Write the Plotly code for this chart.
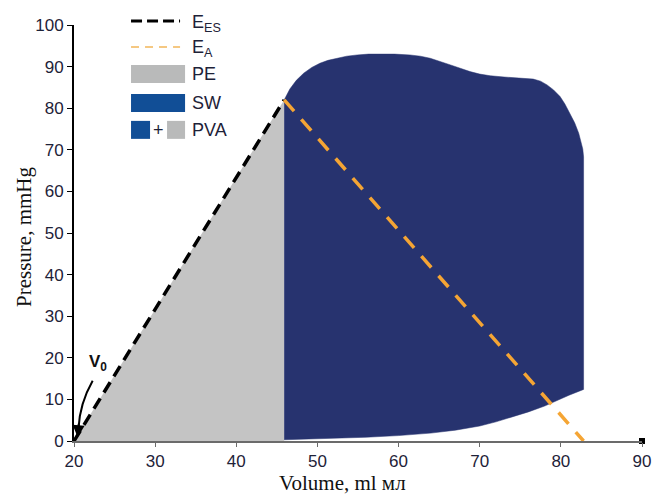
import plotly.graph_objects as go

# ---------------- data ----------------
V0 = 20.0            # unloaded volume
V_ES = 45.9          # end-systolic volume
P_ES = 82.0          # end-systolic pressure
V_ED = 82.8          # end-diastolic volume

# pressure-volume loop: upper (ejection/systolic) boundary
top_vol = [45.9, 46.6, 47.4, 48.3, 49.3, 50.3, 51.3, 52.4, 53.6, 54.9, 56.3,
           57.7, 59.5, 61.4, 62.7, 63.9, 65.1, 66.4, 67.6, 68.8, 70.0, 71.3,
           73.0, 74.6, 75.6, 76.6, 77.5, 78.3, 79.1, 79.9, 80.5, 81.1, 81.7,
           82.2, 82.5, 82.7, 82.8]
top_prs = [82.0, 84.6, 86.7, 88.4, 89.8, 90.8, 91.5, 92.0, 92.5, 92.8, 93.0,
           93.0, 93.0, 92.8, 92.5, 92.0, 91.3, 90.4, 89.6, 88.8, 88.2, 87.8,
           87.5, 87.3, 87.2, 87.0, 86.5, 85.6, 84.4, 82.8, 81.0, 78.8, 76.5,
           74.0, 72.0, 70.2, 68.3]
# lower (filling / EDPVR) boundary, from end-diastole back to end-systole
bot_vol = [82.8, 81.0, 79.9, 78.0, 76.0, 74.0, 72.0, 70.0, 67.0, 64.0, 60.0,
           56.0, 52.0, 49.0, 45.9]
bot_prs = [12.4, 11.0, 10.0, 8.4, 7.0, 5.8, 4.6, 3.6, 2.6, 1.9, 1.3,
           0.9, 0.6, 0.4, 0.3]

x_ticks = [20, 30, 40, 50, 60, 70, 80, 90]
y_ticks = [0, 10, 20, 30, 40, 50, 60, 70, 80, 90, 100]
X_MIN, X_MAX = 20, 90
Y_MIN, Y_MAX = 0, 100

# ---------------- styles ----------------
PE_COLOR = "#c4c4c4"
SW_COLOR = "#27336f"
SW_LEG = "#114e96"
PE_LEG = "#b9baba"
EA_COLOR = "#f5a534"
TXT = "#1e2238"

fig = go.Figure()

# PE triangle (V0 -> ES point -> down to axis)
fig.add_trace(go.Scatter(
    x=[V0, V_ES, V_ES, V0], y=[0, P_ES, 0, 0],
    fill="toself", fillcolor=PE_COLOR, mode="lines",
    line=dict(width=0, color=PE_COLOR), hoverinfo="skip", showlegend=False))

# SW loop area
fig.add_trace(go.Scatter(
    x=top_vol + bot_vol, y=top_prs + bot_prs,
    fill="toself", fillcolor=SW_COLOR, mode="lines",
    line=dict(width=0.5, color=SW_COLOR),
    hoverinfo="skip", showlegend=False))

# E_ES line
fig.add_trace(go.Scatter(
    x=[V0, V_ES], y=[0, P_ES], mode="lines",
    line=dict(color="black", width=3.5, dash="12px,7px"),
    hoverinfo="skip", showlegend=False))

# E_A line
fig.add_trace(go.Scatter(
    x=[V_ES, V_ED], y=[P_ES, 0], mode="lines",
    line=dict(color=EA_COLOR, width=3.5, dash="15px,11px"),
    hoverinfo="skip", showlegend=False, cliponaxis=False))

# end-of-axis square marker
fig.add_trace(go.Scatter(
    x=[X_MAX], y=[Y_MIN], mode="markers",
    marker=dict(symbol="square", size=6, color="black"),
    hoverinfo="skip", showlegend=False, cliponaxis=False))

# ---------------- legend (drawn manually) ----------------
L, R, T, B = 74, 641.7, 25, 441.5
def px(x):
    return (x - L) / (R - L)
def py(y):
    return (B - y) / (B - T)

shapes = []
annotations = []
shapes.append(dict(type="line", xref="paper", yref="paper",
                   x0=px(131), x1=px(180), y0=py(21), y1=py(21),
                   line=dict(color="black", width=3, dash="11px,5px")))
shapes.append(dict(type="line", xref="paper", yref="paper",
                   x0=px(131), x1=px(180), y0=py(47), y1=py(47),
                   line=dict(color="#f2b65a", width=1.5, dash="8px,6px")))
shapes.append(dict(type="rect", xref="paper", yref="paper",
                   x0=px(131), x1=px(185), y0=py(83), y1=py(65),
                   fillcolor=PE_LEG, line=dict(width=0)))
shapes.append(dict(type="rect", xref="paper", yref="paper",
                   x0=px(131), x1=px(185), y0=py(112), y1=py(94),
                   fillcolor=SW_LEG, line=dict(width=0)))
shapes.append(dict(type="rect", xref="paper", yref="paper",
                   x0=px(131), x1=px(150), y0=py(139), y1=py(121),
                   fillcolor=SW_LEG, line=dict(width=0)))
shapes.append(dict(type="rect", xref="paper", yref="paper",
                   x0=px(167), x1=px(185), y0=py(139), y1=py(121),
                   fillcolor=PE_LEG, line=dict(width=0)))

leg_font = dict(family="Liberation Sans, Arial", size=18, color=TXT)
for txt, yy in [("E<sub>ES</sub>", 23), ("E<sub>A</sub>", 49), ("PE", 74),
                ("SW", 103), ("PVA", 130)]:
    annotations.append(dict(xref="paper", yref="paper", x=px(190), y=py(yy),
                            xanchor="left", yanchor="middle", text=txt,
                            showarrow=False, font=leg_font))
annotations.append(dict(xref="paper", yref="paper", x=px(158.5), y=py(130),
                        xanchor="center", yanchor="middle", text="+",
                        showarrow=False, font=leg_font))

# ---------------- V0 label + curved arrow ----------------
annotations.append(dict(x=23.0, y=18.8, xref="x", yref="y", text="<b>V<sub>0</sub></b>",
                        showarrow=False,
                        font=dict(family="Liberation Sans, Arial", size=17, color="#111")))
shapes.append(dict(type="path", xref="x", yref="y",
                   path="M 22.3,14.5 Q 20.7,9.0 20.55,3.0",
                   line=dict(color="black", width=2)))
annotations.append(dict(x=20.45, y=0.9, xref="x", yref="y",
                        ax=20.6, ay=4.5, axref="x", ayref="y",
                        text="", showarrow=True, arrowhead=2, arrowsize=1.2,
                        arrowwidth=2, arrowcolor="black"))

# ---------------- axis titles ----------------
title_font = dict(family="Liberation Serif, Times New Roman", size=21, color="#111")
annotations.append(dict(xref="paper", yref="paper", x=(342 - L) / (R - L), y=0,
                        yshift=-42, xanchor="center", yanchor="middle",
                        text="Volume, ml мл", showarrow=False, font=title_font))
annotations.append(dict(xref="paper", yref="paper", x=0, y=0.5, xshift=-50,
                        yshift=-4, xanchor="center", yanchor="middle",
                        text="Pressure, mmHg", textangle=-90,
                        showarrow=False, font=title_font))

tick_font = dict(family="Liberation Sans, Arial", size=17, color=TXT)
fig.update_layout(
    width=664, height=494,
    margin=dict(l=74, r=22, t=25, b=52.5),
    paper_bgcolor="white", plot_bgcolor="white",
    showlegend=False,
    shapes=shapes, annotations=annotations,
    xaxis=dict(range=[X_MIN, X_MAX], tickvals=x_ticks, showgrid=False,
               zeroline=False, showline=True, linecolor="#6b6b6b", linewidth=2,
               ticks="outside", ticklen=4, tickcolor="#6b6b6b", tickwidth=1,
               tickfont=tick_font),
    yaxis=dict(range=[Y_MIN, Y_MAX], tickvals=y_ticks, showgrid=False,
               zeroline=False, showline=True, linecolor="black", linewidth=2,
               ticks="outside", ticklen=5, tickcolor="black", tickwidth=1,
               tickfont=tick_font),
)

fig.write_html("out.html")
